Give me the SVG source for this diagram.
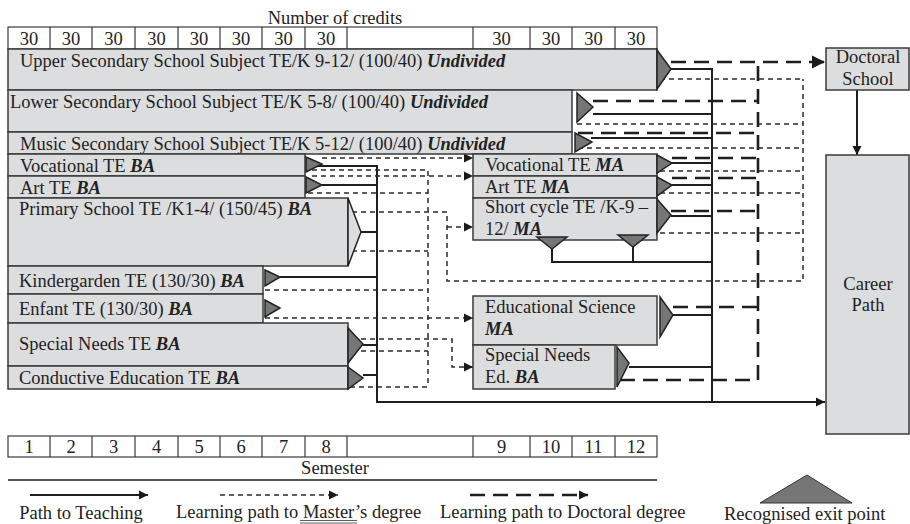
<svg xmlns="http://www.w3.org/2000/svg" width="910" height="524" viewBox="0 0 910 524" font-family="'Liberation Serif', serif">
<defs>
<style>
.box{fill:#dcdddf;stroke:#3a3a3a;stroke-width:1.5}
.cell{fill:#fff;stroke:#3a3a3a;stroke-width:1.2}
.exit{fill:#767676;stroke:#222;stroke-width:1.5;stroke-linejoin:miter}
.t{font-family:'Liberation Serif',serif;font-size:18.5px;fill:#222}
.c{text-anchor:middle}
.bi{font-weight:bold;font-style:italic}
.solid{stroke:#1e1e1e;stroke-width:2;fill:none}
.sd{stroke:#2a2a2a;stroke-width:1.5;stroke-dasharray:5 4;fill:none}
.ld{stroke:#1e1e1e;stroke-width:2.6;stroke-dasharray:15 8;fill:none}
</style>
<marker id="ah" viewBox="0 0 10 10" refX="10" refY="5" markerWidth="9" markerHeight="10" orient="auto" markerUnits="userSpaceOnUse"><path d="M0,0 L10,5 L0,10 z" fill="#1a1a1a" stroke="none"/></marker>
<marker id="ahL" viewBox="0 0 10 10" refX="10" refY="5" markerWidth="13" markerHeight="14" orient="auto" markerUnits="userSpaceOnUse"><path d="M0,0 L10,5 L0,10 z" fill="#1a1a1a" stroke="none"/></marker>
</defs>
<rect width="910" height="524" fill="#fff"/>

<g id="credits">
<text class="t c" x="335" y="24">Number of credits</text>
<rect class="cell" x="8" y="27" width="649" height="22"/>
<path d="M50,27V49M92,27V49M135,27V49M178,27V49M220,27V49M262,27V49M305,27V49M347,27V49M473,27V49M530,27V49M572,27V49M615,27V49" stroke="#3a3a3a" stroke-width="1.2"/>
<g class="t c">
<text x="29" y="45">30</text><text x="71" y="45">30</text><text x="113.5" y="45">30</text><text x="156.5" y="45">30</text><text x="199" y="45">30</text><text x="241" y="45">30</text><text x="283.5" y="45">30</text><text x="326" y="45">30</text>
<text x="501.5" y="45">30</text><text x="551" y="45">30</text><text x="593.5" y="45">30</text><text x="636" y="45">30</text>
</g>
</g>

<g id="connectors">
<path class="solid" d="M318,166H377V402H825" marker-end="url(#ah)"/>
<path class="solid" d="M322,185H377M361,232H377M280,277H377M363,345H377M363,375H377"/>
<path class="solid" d="M668,69H712V402M593,114H712M591,138H712M672,163H712M672,185H712M671,216H712M673,315H712M629,367H712"/>
<path class="solid" d="M552,248V262H712M633,246V262"/>
<path class="solid" d="M857,90V155" marker-end="url(#ah)"/>
<path class="sd" d="M322,158H473" marker-end="url(#ah)"/>
<path class="sd" d="M312,176H473" marker-end="url(#ah)"/>
<path class="sd" d="M312,170H428V387"/>
<path class="sd" d="M308,193H428M352,251H428M265,290H428M352,351H428M350,387H428"/>
<path class="sd" d="M352,212H447V281H803V79"/>
<path class="sd" d="M447,227H473" marker-end="url(#ah)"/>
<path class="sd" d="M265,318H473" marker-end="url(#ah)"/>
<path class="sd" d="M352,339H452V367H473" marker-end="url(#ah)"/>
<path class="sd" d="M660,79H803M577,124H803M578,148H803M660,171H803M660,193H803M660,233H803"/>
<path class="ld" d="M671,62H825" marker-end="url(#ahL)"/>
<path class="ld" d="M620,380H758V62"/>
<path class="ld" d="M593,101H758M578,133H758M672,158H758M672,178H758M671,211H758M673,307H758"/>
</g>

<g id="upper-secondary">
<rect class="box" x="8" y="49" width="649" height="41"/>
<text class="t" x="20" y="67">Upper Secondary School Subject TE/K 9-12/ (100/40) <tspan class="bi">Undivided</tspan></text>
<polygon class="exit" points="657,50 671,69 657,89"/>
</g>
<g id="lower-secondary">
<rect class="box" x="8" y="90" width="564" height="42"/>
<text class="t" x="10" y="108">Lower Secondary School Subject TE/K 5-8/ (100/40) <tspan class="bi">Undivided</tspan></text>
<polygon class="exit" points="577,93 593,107 577,122"/>
</g>
<g id="music-secondary">
<rect class="box" x="8" y="132" width="564" height="22"/>
<text class="t" x="20" y="150">Music Secondary School Subject TE/K 5-12/ (100/40) <tspan class="bi">Undivided</tspan></text>
<polygon class="exit" points="575,133 592,142 575,152"/>
</g>
<g id="vocational-ba">
<rect class="box" x="8" y="154" width="297" height="22"/>
<text class="t" x="20" y="172">Vocational TE <tspan class="bi">BA</tspan></text>
<polygon class="exit" points="306,157 322,164 306,172"/>
</g>
<g id="art-ba">
<rect class="box" x="8" y="176" width="297" height="22"/>
<text class="t" x="20" y="194">Art TE <tspan class="bi">BA</tspan></text>
<polygon class="exit" points="306,177 322,185 306,193"/>
</g>
<g id="primary-ba">
<rect class="box" x="8" y="198" width="340" height="68"/>
<text class="t" x="19" y="215">Primary School TE /K1-4/ (150/45) <tspan class="bi">BA</tspan></text>
<polygon points="348,198 361,232 348,266" fill="#dcdddf" stroke="#222" stroke-width="1.5"/>
</g>
<g id="kindergarden-ba">
<rect class="box" x="8" y="266" width="255" height="28"/>
<text class="t" x="19" y="287">Kindergarden TE (130/30) <tspan class="bi">BA</tspan></text>
<polygon class="exit" points="265,270 280,277 265,286"/>
</g>
<g id="enfant-ba">
<rect class="box" x="8" y="294" width="255" height="29"/>
<text class="t" x="19" y="315">Enfant TE (130/30) <tspan class="bi">BA</tspan></text>
<polygon class="exit" points="265,300 280,308 265,317"/>
</g>
<g id="special-needs-ba">
<rect class="box" x="8" y="323" width="340" height="43"/>
<text class="t" x="19" y="350">Special Needs TE <tspan class="bi">BA</tspan></text>
<polygon class="exit" points="348,328 363,344 348,363"/>
</g>
<g id="conductive-ba">
<rect class="box" x="8" y="366" width="340" height="23"/>
<text class="t" x="19" y="384">Conductive Education TE <tspan class="bi">BA</tspan></text>
<polygon class="exit" points="348,367 363,378 348,389"/>
</g>
<g id="vocational-ma">
<rect class="box" x="473" y="154" width="184" height="22"/>
<text class="t" x="485" y="171">Vocational TE <tspan class="bi">MA</tspan></text>
<polygon class="exit" points="657,155 672,163 657,173"/>
</g>
<g id="art-ma">
<rect class="box" x="473" y="176" width="184" height="22"/>
<text class="t" x="485" y="193">Art TE <tspan class="bi">MA</tspan></text>
<polygon class="exit" points="657,177 672,185 657,196"/>
</g>
<g id="short-cycle-ma">
<rect class="box" x="473" y="198" width="184" height="42"/>
<text class="t" x="485" y="213">Short cycle TE /K-9 –</text>
<text class="t" x="485" y="235">12/ <tspan class="bi">MA</tspan></text>
<polygon class="exit" points="657,199 671,215 657,233"/>
<polygon class="exit" points="537,237 567,237 552,249"/>
<polygon class="exit" points="618,235 648,235 633,247"/>
</g>
<g id="educational-science-ma">
<rect class="box" x="473" y="296" width="184" height="49"/>
<text class="t" x="485" y="313">Educational Science</text>
<text class="t bi" x="485" y="335">MA</text>
<polygon class="exit" points="660,297 673,315 660,337"/>
</g>
<g id="special-needs-ed-ba">
<rect class="box" x="473" y="345" width="142" height="44"/>
<text class="t" x="485" y="361">Special Needs</text>
<text class="t" x="485" y="383">Ed. <tspan class="bi">BA</tspan></text>
<polygon class="exit" points="617,347 629,363 617,387"/>
</g>
<g id="doctoral-school">
<rect class="box" x="826" y="48" width="83" height="42"/>
<text class="t c" x="868" y="63">Doctoral</text>
<text class="t c" x="868" y="85">School</text>
</g>
<g id="career-path">
<rect class="box" x="826" y="155" width="83" height="279"/>
<text class="t c" x="868" y="290">Career</text>
<text class="t c" x="868" y="311">Path</text>
</g>

<g id="semesters">
<rect class="cell" x="8" y="436" width="649" height="21"/>
<path d="M50,436V457M92,436V457M135,436V457M178,436V457M220,436V457M262,436V457M305,436V457M347,436V457M473,436V457M530,436V457M572,436V457M615,436V457" stroke="#3a3a3a" stroke-width="1.2"/>
<g class="t c">
<text x="29" y="453">1</text><text x="71" y="453">2</text><text x="113.5" y="453">3</text><text x="156.5" y="453">4</text><text x="199" y="453">5</text><text x="241" y="453">6</text><text x="283.5" y="453">7</text><text x="326" y="453">8</text>
<text x="501.5" y="453">9</text><text x="551" y="453">10</text><text x="593.5" y="453">11</text><text x="636" y="453">12</text>
</g>
<text class="t c" x="335" y="474">Semester</text>
<line x1="8" y1="480" x2="657" y2="480" stroke="#555" stroke-width="2"/>
</g>

<g id="legend">
<path class="solid" d="M30,495H148" marker-end="url(#ah)"/>
<text class="t c" x="81" y="519">Path to Teaching</text>
<path class="sd" d="M220,495H338" marker-end="url(#ah)"/>
<text class="t" x="176" y="518">Learning path to Master’s degree</text>
<path d="M300,520.5H357M300,523H357" stroke="#333" stroke-width="0.8"/>
<path class="ld" d="M470,495H588" stroke-width="1.8" marker-end="url(#ah)"/>
<text class="t" x="440" y="518">Learning path to Doctoral degree</text>
<polygon points="760,503 807,475 852,503" fill="#767676" stroke="#333" stroke-width="1"/>
<text class="t" x="724" y="520">Recognised exit point</text>
</g>
</svg>
